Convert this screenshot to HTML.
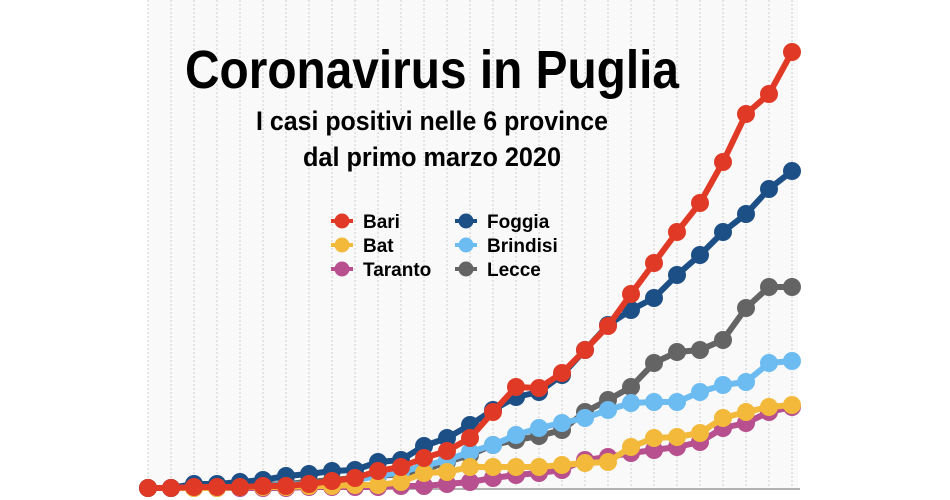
<!DOCTYPE html>
<html><head><meta charset="utf-8">
<style>
html,body{margin:0;padding:0;background:#fff;}
svg{display:block;font-family:"Liberation Sans",sans-serif;}
</style></head>
<body>
<svg id="chart" width="950" height="500" viewBox="0 0 950 500" xmlns="http://www.w3.org/2000/svg">
<rect x="148" y="0" width="650" height="488" fill="#f9f9f9"/>
<g id="grid"></g>
<line x1="140" y1="489" x2="800" y2="489" stroke="#999" stroke-width="1.5"/>
<g id="series"></g>
<text x="432" y="88" text-anchor="middle" font-size="54" font-weight="bold" textLength="494" lengthAdjust="spacingAndGlyphs" fill="#000">Coronavirus in Puglia</text>
<text x="432" y="130" text-anchor="middle" font-size="27" font-weight="bold" textLength="352" lengthAdjust="spacingAndGlyphs" fill="#000">I casi positivi nelle 6 province</text>
<text x="432" y="166" text-anchor="middle" font-size="27" font-weight="bold" textLength="258" lengthAdjust="spacingAndGlyphs" fill="#000">dal primo marzo 2020</text>
<g id="legend"></g>
</svg>
<script>
const days = Array.from({length:29},(_,i)=>i+1);
const bari    = [0,0,1,1,1,2,2,4,7,10,17,21,30,37,50,76,101,100,115,138,162,194,225,256,285,326,374,394,436];
const foggia  = [0,0,4,4,6,8,12,14,17,18,26,28,42,50,63,78,91,96,113,138,163,178,190,213,233,256,274,299,317];
const lecce   = [0,0,1,1,2,3,4,6,8,10,12,14,18,26,33,43,48,52,58,76,88,101,125,136,138,148,180,201,201];
const brindisi= [0,0,1,1,2,2,3,4,6,8,12,16,22,28,36,43,53,60,65,70,78,85,86,86,96,103,106,125,127];
const bat     = [0,0,0,0,1,1,1,2,2,3,3,6,15,16,21,21,21,21,23,25,26,41,50,51,55,70,76,81,83];
const taranto = [0,0,0,0,0,0,0,1,1,1,1,2,2,4,6,10,13,15,18,28,31,35,38,41,46,60,65,76,81];
const seriesNames = ["Bari","Foggia","Lecce","Brindisi","Bat","Taranto"];
const seriesColors = ["#e03a26","#1c4f86","#646464","#6cbcf2","#f2b93b","#b84f8e"];

const NS="http://www.w3.org/2000/svg";
const x0=148, dx=23, yBase=488, yScale=1;
function xs(i){return x0+i*dx;}
function ys(v){return yBase-v*yScale;}
function mk(tag,attrs){const e=document.createElementNS(NS,tag);for(const k in attrs)e.setAttribute(k,attrs[k]);return e;}

const grid=document.getElementById('grid');
days.forEach((d,i)=>{
  const l=mk('line',{x1:xs(i),y1:0,x2:xs(i),y2:488,stroke:'#cfcfcf','stroke-width':1,'stroke-dasharray':'2,2'});
  
  
  grid.appendChild(l);
});

const data=[bari,foggia,lecce,brindisi,bat,taranto];
const order=[2,3,5,4,1,0];
const sg=document.getElementById('series');
order.forEach(si=>{
  const vals=data[si], col=seriesColors[si];
  const g=mk('g',{});
  
  
  const pts=vals.map((v,i)=>xs(i)+','+ys(v)).join(' ');
  const pl=mk('polyline',{points:pts,fill:'none',stroke:col,'stroke-width':6,'stroke-linejoin':'round'});
  
  
  g.appendChild(pl);
  vals.forEach((v,i)=>{
    const c=mk('circle',{cx:xs(i),cy:ys(v),r:9,fill:col});
    
    
    g.appendChild(c);
  });
  sg.appendChild(g);
});

const legendItems=[["Bari",0,342,221],["Bat",4,342,245],["Taranto",5,342,269],["Foggia",1,466,221],["Brindisi",3,466,245],["Lecce",2,466,269]];
const lg=document.getElementById('legend');
legendItems.forEach(([name,ci,x,y])=>{
  const g=mk('g',{});
  
  
  g.appendChild(mk('line',{x1:x-11,y1:y,x2:x+11,y2:y,stroke:seriesColors[ci],'stroke-width':4}));
  g.appendChild(mk('circle',{cx:x,cy:y,r:7.5,fill:seriesColors[ci]}));
  const t=mk('text',{x:x+21,y:y+7,'font-size':19,'font-weight':'bold',fill:'#000'});
  t.textContent=name;
  g.appendChild(t);
  lg.appendChild(g);
});
</script>
</body></html>
